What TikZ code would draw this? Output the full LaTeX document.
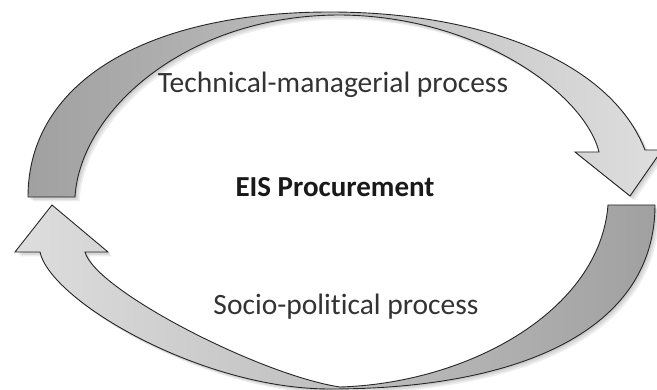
\documentclass[tikz,border=0pt]{standalone}
\usepackage{fontspec}
\setmainfont{Carlito}[Ligatures=NoCommon]
\begin{document}
\begin{tikzpicture}[x=1pt,y=-1pt,
  arrowline/.style={draw=black!85,line width=0.9pt,line join=miter},
  lbl/.style={anchor=base,text=black!80,inner sep=0pt,font=\fontsize{29.5}{34}\selectfont},
  shadowfill/.style={fill=black,fill opacity=0.07,draw=none}]
\useasboundingbox (0,0) rectangle (657,390);
\clip (0,0) rectangle (657,390);
% paths
\def\toparrow{(28,197) .. controls (28,80) and (150,12) .. (330,12)
  .. controls (480,12) and (610,60) .. (645,150)
  -- (662,150) -- (630,196) -- (575,152) -- (599,152)
  .. controls (585,95) and (480,16) .. (340,15)
  .. controls (185,15) and (80,112) .. (75,197) -- cycle}
\def\botarrow{(655,205) .. controls (655,330) and (520,389) .. (330,389)
  .. controls (200,389) and (50,300) .. (40,252)
  -- (15,252) -- (52,205) -- (108,252) -- (85,252)
  .. controls (95,290) and (260,375) .. (340,387)
  .. controls (470,383) and (600,310) .. (608,205) -- cycle}
% shadows
\foreach \d in {1.5,3,4.5}{
  \fill[shadowfill,shift={(\d,\d)}] \toparrow;
  \fill[shadowfill,shift={(\d,\d)}] \botarrow;
}
% arrows
\path[arrowline,left color=black!37,right color=black!13] \toparrow;
\path[arrowline,left color=black!13,right color=black!37] \botarrow;
% labels
\node[lbl] (tm) at (333,93) {Technical-managerial process};
\node[lbl,font=\fontsize{29}{34}\selectfont\bfseries,text=black!90] (eis) at (335,197) {EIS Procurement};
\node[lbl] (sp) at (346,315) {Socio-political process};
\end{tikzpicture}
\end{document}
